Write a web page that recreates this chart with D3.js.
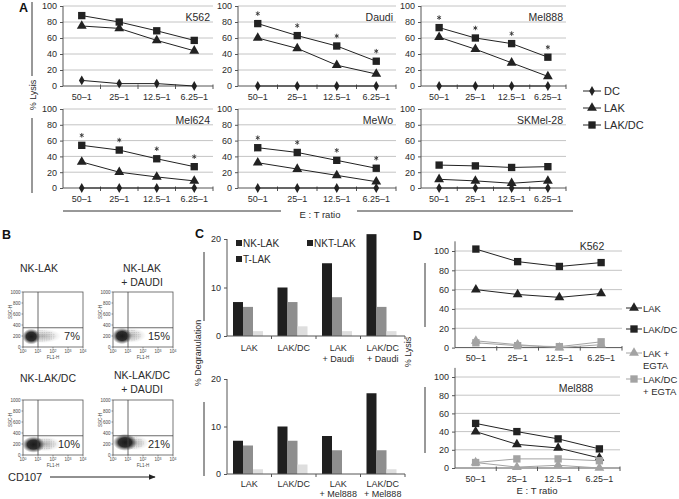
<!DOCTYPE html>
<html><head><meta charset="utf-8">
<script src="https://cdn.jsdelivr.net/npm/d3@7"></script>
<style>
body{margin:0;background:#fff}
svg{font-family:Arial,"Liberation Sans",Helvetica,sans-serif}
</style>
</head><body>
<svg id="c" width="679" height="499"></svg>
<script>
// ---------- DATA ----------
const ratios = ["50–1","25–1","12.5–1","6.25–1"];
// Panel A
const targetsA = ["K562","Daudi","Mel888","Mel624","MeWo","SKMel-28"];
const dcA    = [[7,3,3,0],[0,0,0,0],[0,0,0,0],[0,0,0,0],[0,0,0,0],[0,0,0,0]];
const lakA   = [[75,72,57,44],[60,47,26,15],[61,46,29,12],[33,20,14,9],[32,24,16,8],[11,9,6,9]];
const lakdcA = [[88,80,69,57],[78,63,50,31],[73,60,53,36],[54,48,37,27],[51,45,35,25],[29,28,26,27]];
const starA  = [false,true,true,true,true,false];
const seriesA = ["DC","LAK","LAK/DC"];
const yTicksA = [0,20,40,60,80,100];
// Panel B
const flowTitles = [["NK-LAK"],["NK-LAK","+ DAUDI"],["NK-LAK/DC"],["NK-LAK/DC","+ DAUDI"]];
const flowPct = ["7%","15%","10%","21%"];
const sscTicks = [0,200,400,600,800,1000];
const fl1Decades = [0,1,2,3,4];
// Panel C
const groupsTop = [["LAK"],["LAK/DC"],["LAK","+ Daudi"],["LAK/DC","+ Daudi"]];
const groupsBot = [["LAK"],["LAK/DC"],["LAK","+ Mel888"],["LAK/DC","+ Mel888"]];
const nkTop  = [7,10,15,21], nktTop = [6,7,8,6], tTop = [1,2,1,1];
const nkBot  = [7,10,8,17],  nktBot = [6,7,5,5], tBot = [1,2,0,1];
const seriesC = ["NK-LAK","NKT-LAK","T-LAK"];
const yTicksC = [0,10,20];
// Panel D
const seriesD = [["LAK"],["LAK/DC"],["LAK +","EGTA"],["LAK/DC","+ EGTA"]];
const dK562   = [[60,55,52,56],[102,89,84,88],[7,3,0,3],[5,2,1,6]];
const dMel888 = [[40,26,22,11],[49,40,32,21],[6,1,3,0],[6,10,10,8]];

// ---------- STYLE / LAYOUT ----------
const svg = d3.select("#c");
const FONT = 'Arial, "Liberation Sans", Helvetica, sans-serif';
const TXT = "#2b2b2b", AX = "#555", GRID = "#c4c4c4", DARK = "#222", GRAY = "#a3a3a3";
const barColors = ["#1f1f1f","#8e8e8e","#dedede"];
const sym = {
  dia: d3.symbol().type(d3.symbolDiamond).size(28),
  tri: d3.symbol().type(d3.symbolTriangle).size(42),
  sq:  d3.symbol().type(d3.symbolSquare).size(54),
  star: d3.symbol().type(d3.symbolAsterisk).size(14)
};

const defs = svg.append("defs");
const rg = defs.append("radialGradient").attr("id","core");
rg.append("stop").attr("offset","0%").attr("stop-color","#111").attr("stop-opacity",0.95);
rg.append("stop").attr("offset","55%").attr("stop-color","#1a1a1a").attr("stop-opacity",0.9);
rg.append("stop").attr("offset","100%").attr("stop-color","#444").attr("stop-opacity",0.0);
const pat = defs.append("pattern").attr("id","dots").attr("width",2.3).attr("height",2.1).attr("patternUnits","userSpaceOnUse");
pat.append("circle").attr("cx",0.8).attr("cy",0.8).attr("r",0.5).attr("fill","#555");
const tg = defs.append("radialGradient").attr("id","tailg");
tg.append("stop").attr("offset","0%").attr("stop-color","#777").attr("stop-opacity",0.55);
tg.append("stop").attr("offset","100%").attr("stop-color","#999").attr("stop-opacity",0.0);
const ah = defs.append("marker").attr("id","arr").attr("viewBox","0 0 10 10").attr("refX",9).attr("refY",5)
  .attr("markerWidth",7).attr("markerHeight",7).attr("orient","auto");
ah.append("path").attr("d","M0,1 L10,5 L0,9 z").attr("fill","#222");

function text(g, x, y, s, o = {}) {
  return g.append("text").attr("x", x).attr("y", y).text(s)
    .attr("font-size", o.size || 9).attr("fill", o.fill || TXT)
    .attr("text-anchor", o.anchor || "start")
    .attr("font-weight", o.weight || null)
    .attr("transform", o.rot ? `rotate(${o.rot},${x},${y})` : null);
}
function line(g, x1, y1, x2, y2, c = AX, w = 1) {
  return g.append("line").attr("x1",x1).attr("y1",y1).attr("x2",x2).attr("y2",y2)
    .attr("stroke",c).attr("stroke-width",w);
}

// ---------- line panel (A and D) ----------
function linePanel(o, series) {
  const g = svg.append("g");
  const x = d3.scaleBand().domain(ratios).range([o.x0, o.x1]);
  const y = d3.scaleLinear().domain([0,100]).range([o.y0, o.y100]);
  g.selectAll(null).data(yTicksA.slice(1)).join("line")
    .attr("x1", o.x0).attr("x2", o.x1).attr("y1", d => y(d)).attr("y2", d => y(d))
    .attr("stroke", GRID).attr("stroke-width", 1);
  const ax = g.append("g").attr("transform", `translate(${o.x0},0)`)
    .call(d3.axisLeft(y).tickValues(yTicksA).tickSize(3).tickPadding(3));
  ax.attr("font-family", FONT);
  ax.select(".domain").remove();
  ax.selectAll("line").attr("stroke", AX);
  ax.selectAll("text").attr("font-size", 9).attr("fill", TXT);
  line(g, o.x0, y(0), o.x0, y(o.dmax || 100));
  line(g, o.x0, y(0), o.x1, y(0));
  const bounds = ratios.slice(1).map(r => x(r)).concat([o.x1]);
  g.selectAll(null).data(bounds).join("line")
    .attr("x1", d => d).attr("x2", d => d).attr("y1", y(0) - 1.5).attr("y2", y(0) + 3)
    .attr("stroke", AX);
  g.selectAll(null).data(ratios).join("text")
    .attr("x", d => x(d) + x.bandwidth()/2).attr("y", y(0) + 13.5)
    .attr("text-anchor","middle").attr("font-size",9).attr("fill",TXT).text(d => d);
  series.forEach(s => {
    const pts = s.values.map((v,i) => [x(ratios[i]) + x.bandwidth()/2, y(v)]);
    g.append("path").attr("d", d3.line()(pts)).attr("fill","none")
      .attr("stroke", s.color).attr("stroke-width", 1);
    g.selectAll(null).data(pts).join("path")
      .attr("transform", d => `translate(${d[0]},${d[1]})`)
      .attr("d", sym[s.shape]).attr("fill", s.color);
    if (s.star) {
      g.selectAll(null).data(pts).join("path")
        .attr("transform", d => `translate(${d[0]},${d[1] - 10})`)
        .attr("d", sym.star).attr("fill","none").attr("stroke","#333").attr("stroke-width",0.9);
    }
  });
  if (o.title) text(g, o.tx, o.ty, o.title, {size: 10.5, anchor: o.tanchor || "end"});
}

// Panel A layout
const colsA = [{x0:63,x1:213},{x0:238,x1:396},{x0:421,x1:566}];
const rowsA = [{y0:86,y100:6,ty:21},{y0:188,y100:109,ty:124}];
targetsA.forEach((t, i) => {
  const c = colsA[i % 3], r = rowsA[Math.floor(i / 3)];
  linePanel({x0:c.x0, x1:c.x1, y0:r.y0, y100:r.y100, title:t, tx:c.x1 - 3, ty:r.ty}, [
    {values: dcA[i], shape:"dia", color:DARK},
    {values: lakA[i], shape:"tri", color:DARK},
    {values: lakdcA[i], shape:"sq", color:DARK, star: starA[i]}
  ]);
});
{
  const g = svg.append("g");
  text(g, 19, 12, "A", {size: 12.5, weight: "bold", fill:"#111"});
  line(g, 32, 2, 32, 76, "#333");
  line(g, 32, 118, 32, 193, "#333");
  text(g, 36, 95, "% Lysis", {size: 9, anchor: "middle", rot: -90});
  line(g, 63, 211, 281, 211, "#333");
  line(g, 357, 211, 573, 211, "#333");
  text(g, 320, 218, "E : T ratio", {size: 9.5, anchor: "middle"});
  const shapes = ["dia","tri","sq"];
  seriesA.forEach((s, k) => {
    const yy = 91 + k * 17;
    line(g, 583, yy, 601, yy, DARK);
    g.append("path").attr("transform",`translate(592,${yy})`).attr("d", sym[shapes[k]]).attr("fill", DARK);
    text(g, 604, yy + 4, s, {size: 11});
  });
}

// ---------- Panel B ----------
const flowPos = [{x:23,y:292,tx:39},{x:113,y:292,tx:142},{x:23,y:400,tx:48},{x:113,y:400,tx:142}];
const titleY = [[272],[272,286],[382],[379,393]];
const clouds = [
  {cx:0.55, cy:190, rx:0.6,  ry:145, tx:1.3,  trx:1.25, tcy:200, try:130},
  {cx:0.6,  cy:200, rx:0.66, ry:150, tx:1.2,  trx:1.0,  tcy:210, try:135},
  {cx:0.7,  cy:190, rx:0.75, ry:150, tx:1.45, trx:1.1,  tcy:200, try:135},
  {cx:0.8,  cy:230, rx:0.8,  ry:155, tx:1.4,  trx:1.0,  tcy:220, try:135}
];
flowPos.forEach((p, i) => {
  const g = svg.append("g");
  const W = 60, H = 55;
  const x = d3.scaleLinear().domain([0,4]).range([p.x, p.x + W]);
  const y = d3.scaleLinear().domain([0,1000]).range([p.y + H, p.y]);
  flowTitles[i].forEach((t, k) => text(g, p.tx, titleY[i][k], t, {size: 10.5, anchor: "middle"}));
  const c = clouds[i];
  const tail = {cx: x(c.tx), cy: y(c.tcy), rx: x(c.trx) - x(0), ry: y(0) - y(c.try)};
  g.append("ellipse").attr("cx", tail.cx).attr("cy", tail.cy).attr("rx", tail.rx).attr("ry", tail.ry)
    .attr("fill","url(#tailg)");
  g.append("ellipse").attr("cx", tail.cx - 2).attr("cy", tail.cy).attr("rx", tail.rx * 0.8).attr("ry", tail.ry * 0.8)
    .attr("fill","url(#dots)").attr("opacity",0.55);
  g.append("ellipse").attr("cx", x(c.cx)).attr("cy", y(c.cy))
    .attr("rx", x(c.rx) - x(0)).attr("ry", y(0) - y(c.ry)).attr("fill","url(#core)");
  g.append("rect").attr("x", p.x).attr("y", p.y).attr("width", W).attr("height", H)
    .attr("fill","none").attr("stroke","#555").attr("stroke-width",0.8);
  line(g, x(1), p.y, x(1), p.y + H, "#444", 0.8);
  line(g, p.x, y(350), p.x + W, y(350), "#444", 0.8);
  sscTicks.forEach(t => {
    line(g, p.x - 1.5, y(t), p.x, y(t), "#555", 0.6);
    text(g, p.x - 2.5, y(t) + 1.6, t, {size: 4.5, anchor: "end", fill:"#444"});
  });
  fl1Decades.forEach(d => {
    line(g, x(d), p.y + H, x(d), p.y + H + 1.5, "#555", 0.6);
    const tt = g.append("text").attr("x", x(d)).attr("y", p.y + H + 6)
      .attr("text-anchor","middle").attr("font-size",4.5).attr("fill","#444");
    tt.append("tspan").text("10");
    tt.append("tspan").attr("dy",-1.5).attr("font-size",3.5).text(d);
  });
  text(g, p.x + W/2, p.y + H + 12, "FL1-H", {size: 4.5, anchor: "middle", fill:"#444"});
  text(g, p.x - 11, p.y + 20, "SSC-H", {size: 4.5, anchor: "middle", fill:"#444", rot: -90});
  text(g, p.x + W - 3, y(200) + 4, flowPct[i], {size: 11, anchor: "end"});
});
{
  const g = svg.append("g");
  text(g, 2, 239, "B", {size: 12.5, weight: "bold", fill:"#111"});
  text(g, 8, 481, "CD107", {size: 11});
  line(g, 50, 477, 155, 477, "#222", 1).attr("marker-end","url(#arr)");
}

// ---------- Panel C ----------
function barPanel(o, nk, nkt, t, labels) {
  const g = svg.append("g");
  const x = d3.scaleBand().domain(d3.range(labels.length)).range([o.x0, o.x1]);
  const y = d3.scaleLinear().domain([0,20]).range([o.y0, o.y20]);
  const bw = 10;
  [nk, nkt, t].forEach((vals, k) => {
    g.selectAll(null).data(vals).join("rect")
      .attr("x", (d, i) => x(i) + 6 + k * bw).attr("width", bw)
      .attr("y", d => y(d)).attr("height", d => y(0) - y(d)).attr("fill", barColors[k]);
  });
  const ax = g.append("g").attr("transform", `translate(${o.x0},0)`)
    .call(d3.axisLeft(y).tickValues(yTicksC).tickSize(3).tickPadding(3));
  ax.attr("font-family", FONT);
  ax.select(".domain").remove();
  ax.selectAll("line").attr("stroke", AX);
  ax.selectAll("text").attr("font-size", 9).attr("fill", TXT);
  line(g, o.x0, y(0), o.x0, y(20));
  line(g, o.x0, y(0), o.x1, y(0));
  g.selectAll(null).data(d3.range(1, labels.length + 1)).join("line")
    .attr("x1", d => o.x0 + d * x.step()).attr("x2", d => o.x0 + d * x.step())
    .attr("y1", y(0)).attr("y2", y(0) + 3).attr("stroke", AX);
  labels.forEach((lab, i) => lab.forEach((s, k) =>
    text(g, x(i) + x.bandwidth()/2, y(0) + o.ly + k * o.lh, s, {size: 9, anchor: "middle"})));
}
barPanel({x0:227, x1:405, y0:336, y20:239, ly:15, lh:11}, nkTop, nktTop, tTop, groupsTop);
barPanel({x0:227, x1:405, y0:474, y20:379, ly:13, lh:9.5}, nkBot, nktBot, tBot, groupsBot);
{
  const g = svg.append("g");
  text(g, 195, 238, "C", {size: 12.5, weight: "bold", fill:"#111"});
  line(g, 204, 252, 204, 321, "#333");
  line(g, 204, 402, 204, 476, "#333");
  text(g, 201, 353, "% Degranulation", {size: 9, anchor: "middle", rot: -90});
  const lp = [[236,240],[307,240],[236,256]];
  seriesC.forEach((s, k) => {
    g.append("rect").attr("x", lp[k][0]).attr("y", lp[k][1]).attr("width", 6).attr("height", 6).attr("fill", "#222");
    text(g, lp[k][0] + 7, lp[k][1] + 6.5, s, {size: 10});
  });
}

// ---------- Panel D ----------
const shapesD = ["tri","sq","tri","sq"], colorsD = [DARK, DARK, GRAY, GRAY];
linePanel({x0:455, x1:622, y0:347.6, y100:251, dmax:110, title:"K562", tx:592, ty:250, tanchor:"middle"},
  dK562.map((v, k) => ({values: v, shape: shapesD[k], color: colorsD[k]})));
linePanel({x0:455, x1:620, y0:468, y100:377, dmax:110, title:"Mel888", tx:576, ty:392, tanchor:"middle"},
  dMel888.map((v, k) => ({values: v, shape: shapesD[k], color: colorsD[k]})));
{
  const g = svg.append("g");
  text(g, 413, 240, "D", {size: 12.5, weight: "bold", fill:"#111"});
  line(g, 425, 263, 425, 327, "#333");
  line(g, 425, 387, 425, 453, "#333");
  text(g, 411, 352, "% Lysis", {size: 9, anchor: "middle", rot: -90});
  text(g, 537, 494, "E : T ratio", {size: 9.5, anchor: "middle"});
  const ly = [308, 329, 353, 379];
  seriesD.forEach((s, k) => {
    line(g, 626, ly[k], 642, ly[k], colorsD[k]);
    g.append("path").attr("transform", `translate(634,${ly[k]})`).attr("d", sym[shapesD[k]]).attr("fill", colorsD[k]);
    s.forEach((t, j) => text(g, 643, ly[k] + 3.5 + j * 12, t, {size: 9.5}));
  });
}
</script>
</body></html>
